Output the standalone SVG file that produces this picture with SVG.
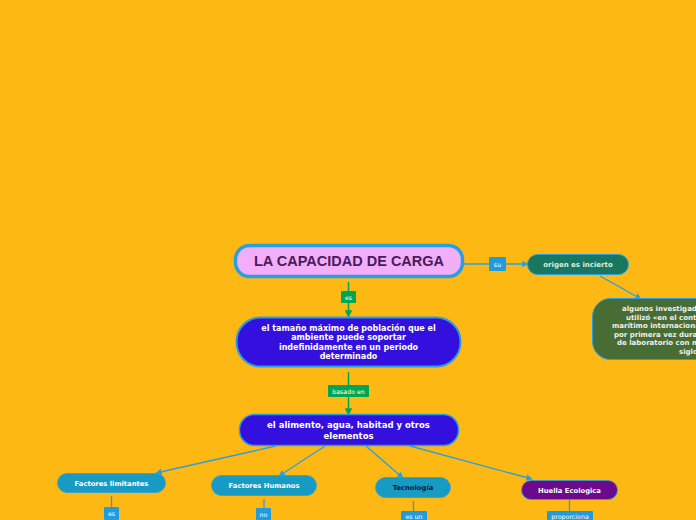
<svg xmlns="http://www.w3.org/2000/svg" width="696" height="520" viewBox="0 0 696 520">
<defs>
<style>
.t{font-family:"DejaVu Sans",Verdana,sans-serif;font-weight:bold;text-anchor:middle}
.s{font-family:"DejaVu Sans",Verdana,sans-serif;font-weight:bold;text-anchor:start}
.w{fill:#ffffff}
.lb{font-family:"DejaVu Sans",Verdana,sans-serif;font-size:6.3px;fill:#ffffff;text-anchor:middle}
.cg{stroke:#00A651;stroke-width:1.5;fill:none}
.cb{stroke:#2A9FE0;stroke-width:1.3;fill:none}
</style>
<marker id="ag" viewBox="0 0 10 10" refX="9" refY="5" markerWidth="5" markerHeight="5" orient="auto"><path d="M0,0L10,5L0,10z" fill="#00A651"/></marker>
<marker id="ab" viewBox="0 0 10 10" refX="9" refY="5" markerWidth="5" markerHeight="5" orient="auto"><path d="M0,0L10,5L0,10z" fill="#2A9FE0"/></marker>
</defs>
<rect width="696" height="520" fill="#FEB813"/>
<g id="connectors">
<path class="cg" d="M348.5,282V317" marker-end="url(#ag)"/>
<rect x="341" y="291" width="15" height="12" rx="1" fill="#00A651"/>
<text class="lb" x="348.5" y="299.5">es</text>
<path class="cg" d="M348.5,372V415" marker-end="url(#ag)"/>
<rect x="328" y="385" width="41" height="12" rx="1" fill="#00A651"/>
<text class="lb" x="348.5" y="393.5">basado en</text>
<path class="cb" d="M464,264H528" marker-end="url(#ab)"/>
<rect x="489" y="257" width="17" height="14" rx="1" fill="#1F9BE0"/>
<text class="lb" x="497.5" y="266.5">su</text>
<path class="cb" d="M600,276L641,299" marker-end="url(#ab)"/>
<path class="cb" d="M276,446L156,473" marker-end="url(#ab)"/>
<path class="cb" d="M325,446L279,476" marker-end="url(#ab)"/>
<path class="cb" d="M366,446L403,478" marker-end="url(#ab)"/>
<path class="cb" d="M410,446L532,479" marker-end="url(#ab)"/>
<path class="cb" d="M111.5,496V507"/>
<rect x="104" y="507" width="15" height="13" rx="1" fill="#1F9BE0"/>
<text class="lb" x="111.5" y="516">es</text>
<path class="cb" d="M264,499V508"/>
<rect x="256" y="508" width="15" height="13" rx="1" fill="#1F9BE0"/>
<text class="lb" x="263.5" y="517">no</text>
<path class="cb" d="M413.5,501V511"/>
<rect x="401" y="511" width="26" height="12" rx="1" fill="#1F9BE0"/>
<text class="lb" x="414" y="519">es un</text>
<path class="cb" d="M569.5,500V511"/>
<rect x="547" y="511" width="46" height="12" rx="1" fill="#1F9BE0"/>
<text class="lb" x="570" y="519">proporciona</text>
</g>
<g id="main">
<rect x="235.5" y="245.5" width="227" height="31" rx="14" fill="#F2AEF8" stroke="#2A9FE0" stroke-width="3.5"/>
<text x="349" y="266" font-family="Liberation Sans,Arial,sans-serif" font-weight="bold" font-size="14.5" fill="#4B1A5C" text-anchor="middle">LA CAPACIDAD DE CARGA</text>
</g>
<g id="definicion">
<rect x="236.5" y="317.5" width="224" height="49" rx="24" fill="#3310DE" stroke="#2A9FE0" stroke-width="2"/>
<text class="t w" font-size="8"><tspan x="348.5" y="331">el tamaño máximo de población que el</tspan><tspan x="348.5" y="340">ambiente puede soportar</tspan><tspan x="348.5" y="350">indefinidamente en un periodo</tspan><tspan x="348.5" y="359">determinado</tspan></text>
</g>
<g id="elementos">
<rect x="239.5" y="414.5" width="219" height="31" rx="15" fill="#3310DE" stroke="#2A9FE0" stroke-width="1.5"/>
<text class="t w" font-size="8.5"><tspan x="348.5" y="428">el alimento, agua, habitad y otros</tspan><tspan x="348.5" y="439">elementos</tspan></text>
</g>
<g id="origen">
<rect x="527.5" y="254.5" width="101" height="20" rx="10" fill="#19765F" stroke="#2A9FE0" stroke-width="1"/>
<text class="t" font-size="7" fill="#D9EEE6" x="578" y="267">origen es incierto</text>
</g>
<g id="investigadores">
<rect x="592.5" y="298.5" width="130" height="61" rx="18" fill="#486D34" stroke="#2A9FE0" stroke-width="1"/>
<text class="s" font-size="7" fill="#F0F0F0"><tspan x="622" y="311">algunos investigad</tspan><tspan x="626" y="319.5">utilizó «en el cont</tspan><tspan x="612" y="328">marítimo internaciona</tspan><tspan x="614" y="336.5">por primera vez dura</tspan><tspan x="617" y="345">de laboratorio con m</tspan><tspan x="679" y="353.5">siglo</tspan></text>
</g>
<g id="limitantes">
<rect x="57.5" y="473.5" width="108" height="19" rx="9.5" fill="#189BC2" stroke="#2A9FE0" stroke-width="0.8"/>
<text class="t w" font-size="6.8" x="111.5" y="486">Factores limitantes</text>
</g>
<g id="humanos">
<rect x="211.5" y="475.5" width="105" height="20" rx="10" fill="#189BC2" stroke="#2A9FE0" stroke-width="0.8"/>
<text class="t w" font-size="6.8" x="264" y="488">Factores Humanos</text>
</g>
<g id="tecnologia">
<rect x="375.5" y="477.5" width="75" height="20" rx="10" fill="#189BC2" stroke="#2A9FE0" stroke-width="0.8"/>
<text class="t" font-size="6.8" fill="#14143C" x="413" y="490">Tecnología</text>
</g>
<g id="huella">
<rect x="521.5" y="480.5" width="96" height="19" rx="9.5" fill="#6B0A8C" stroke="#2A9FE0" stroke-width="0.8"/>
<text class="t w" font-size="6.8" x="569.5" y="492.5">Huella Ecologica</text>
</g>
</svg>
